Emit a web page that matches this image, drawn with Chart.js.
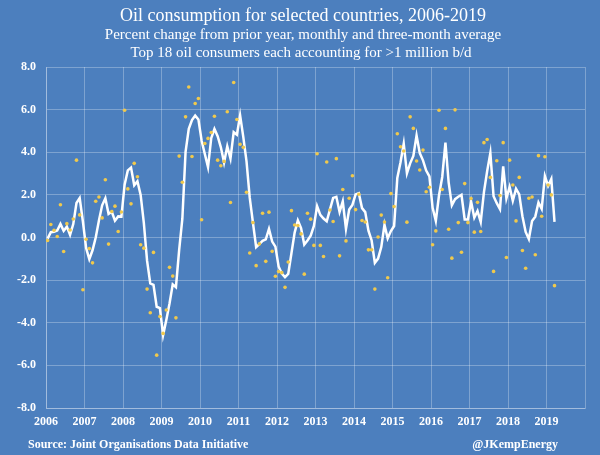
<!DOCTYPE html>
<html>
<head>
<meta charset="utf-8">
<script src="https://cdn.jsdelivr.net/npm/chart.js@4/dist/chart.umd.min.js"></script>
<style>
  html, body { margin: 0; padding: 0; background: #4c7fbe; }
  canvas { display: block; background: #4c7fbe; }
</style>
</head>
<body>
<canvas id="myChart" width="600" height="455"></canvas>
<script>
// monthly data, Jan 2006 - Mar 2019 (percent change from prior year)
const startYear = 2006;

const monthly = [
  -0.14, 0.61, 0.34, 0.05, 1.54, -0.66, 0.65, 0.35, 0.87, 3.63, 1.06, -2.45,
  -0.08, -0.52, -1.19, 1.70, 1.90, 0.92, 2.71, -0.31, 1.22, 1.47, 0.28, 1.20,
  5.97, 2.28, 1.58, 3.48, 2.85, -0.34, -0.50, -2.42, -3.53, -0.70, -5.52, -3.71,
  -4.50, -3.40, -1.40, -1.81, -3.77, 3.82, 2.59, 5.66, 7.06, 3.80, 6.29, 6.52,
  0.83, 4.41, 4.65, 4.93, 5.69, 3.63, 3.37, 3.57, 5.90, 1.64, 7.27, 5.54,
  4.37, 4.23, 2.12, -0.73, 0.70, -1.32, -0.30, 1.14, -1.12, 1.19, -0.65, -1.82,
  -1.60, -1.65, -2.34, -1.15, 1.26, 0.59, 0.56, 0.17, -1.72, 1.14, 0.86, -0.37,
  3.93, -0.37, -0.89, 3.54, 1.29, 0.75, 3.70, -0.86, 2.25, -0.16, 1.84, 2.90,
  1.31, 2.03, 0.80, 0.73, -0.58, -0.58, -2.42, 0.02, 1.05, 0.73, -1.89, 2.06,
  1.45, 4.87, 4.26, 4.06, 0.72, 5.66, 5.12, 3.59, 3.17, 4.10, 2.15, 2.36,
  -0.34, 0.31, 5.97, 2.25, 5.12, 0.39, -0.97, 5.99, 0.70, -0.69, 2.53, 0.70,
  1.83, 0.25, 1.65, 0.28, 4.45, 4.60, 2.82, -1.59, 3.60, 1.97, 4.45, -0.94,
  3.63, 2.46, 0.78, 2.82, -0.61, -1.44, 1.84, 1.90, -0.81, 3.84, 1.00, 3.79,
  2.46, 2.00, -2.26
];

const threeMonth = [
  -0.05, 0.25, 0.27, 0.33, 0.64, 0.31, 0.51, 0.12, 0.63, 1.62, 1.85, 0.75,
  -0.49, -1.02, -0.60, 0.00, 0.80, 1.51, 1.84, 1.11, 1.21, 0.79, 0.99, 0.98,
  2.48, 3.15, 3.28, 2.45, 2.64, 2.00, 0.67, -1.09, -2.15, -2.22, -3.25, -3.31,
  -4.58, -3.87, -3.10, -2.20, -2.33, -0.59, 0.88, 4.02, 5.10, 5.51, 5.72, 5.54,
  4.55, 3.92, 3.30, 4.66, 5.09, 4.75, 4.23, 3.52, 4.28, 3.70, 4.94, 4.82,
  5.73, 4.71, 3.57, 1.87, 0.70, -0.45, -0.31, -0.16, -0.09, 0.40, -0.19, -0.43,
  -1.36, -1.69, -1.86, -1.71, -0.74, 0.23, 0.80, 0.44, -0.33, -0.14, 0.09, 0.54,
  1.47, 1.06, 0.89, 0.76, 1.31, 1.86, 1.91, 1.20, 1.70, 0.41, 1.31, 1.53,
  2.02, 2.08, 1.38, 1.19, 0.32, -0.14, -1.19, -0.99, -0.45, 0.60, -0.04, 0.30,
  0.54, 2.79, 3.53, 4.40, 3.01, 3.48, 3.83, 4.79, 3.96, 3.62, 3.14, 2.87,
  1.39, 0.78, 1.98, 2.84, 4.45, 2.59, 1.51, 1.80, 1.91, 2.00, 0.85, 0.85,
  1.69, 0.93, 1.24, 0.73, 2.13, 3.11, 3.96, 1.94, 1.61, 1.33, 3.34, 1.83,
  2.38, 1.72, 2.29, 2.02, 1.00, 0.26, -0.07, 0.77, 0.98, 1.64, 1.34, 2.88,
  2.42, 2.75, 0.73
];

const yearTicks = [2006, 2007, 2008, 2009, 2010, 2011, 2012, 2013, 2014, 2015, 2016, 2017, 2018, 2019, 2020];

const titleLines = [
  "Oil consumption for selected countries, 2006-2019",
  "Percent change from prior year, monthly and three-month average",
  "Top 18 oil consumers each accounting for >1 million b/d"
];
const sourceText = "Source: Joint Organisations Data Initiative";
const creditText = "@JKempEnergy";

// each value sits in the middle of its month
const monthX = i => startYear + (i + 0.5) / 12;
const monthPts = monthly.map((v, i) => ({ x: monthX(i), y: v }));
const avgPts = threeMonth.map((v, i) => ({ x: monthX(i), y: v }));

const serif = '"Liberation Serif", "DejaVu Serif", serif';
const gridColor = "rgba(255,255,255,0.28)";

const textPlugin = {
  id: "texts",
  afterDraw(chart) {
    const c = chart.ctx;
    c.save();
    c.fillStyle = "#ffffff";
    c.textBaseline = "middle";
    c.textAlign = "center";
    c.font = "18px " + serif;
    c.fillText(titleLines[0], 303, 16);
    c.font = "15px " + serif;
    c.fillText(titleLines[1], 303, 35);
    c.fillText(titleLines[2], 301, 53);
    c.font = "bold 12px " + serif;
    c.textAlign = "left";
    c.fillText(sourceText, 28, 445);
    c.textAlign = "right";
    c.fillText(creditText, 558, 445);
    c.restore();
  }
};

const ctx = document.getElementById("myChart");
const myChart = new Chart(ctx, {
  type: "scatter",
  data: {
    datasets: [
      {
        label: "monthly",
        data: monthPts,
        backgroundColor: "#f0c94c",
        borderWidth: 0,
        pointRadius: 1.8,
        order: 0
      },
      {
        type: "line",
        label: "three-month average",
        data: avgPts,
        borderColor: "#ffffff",
        borderWidth: 2.5,
        pointRadius: 0,
        tension: 0,
        fill: false,
        order: 1
      }
    ]
  },
  options: {
    responsive: false,
    animation: false,
    layout: { padding: { top: 67, right: 15, bottom: 24, left: 0 } },
    plugins: {
      legend: { display: false },
      tooltip: { enabled: false },
      title: { display: false }
    },
    scales: {
      x: {
        type: "linear",
        min: 2006,
        max: 2020,
        afterBuildTicks: s => { s.ticks = yearTicks.map(v => ({ value: v })); },
        afterFit: s => { s.height = 23; },
        ticks: {
          color: "#ffffff",
          font: { family: serif, size: 12, weight: "bold" },
          padding: 7,
          maxRotation: 0,
          autoSkip: false,
          callback: v => (v === 2020 ? "" : String(v))
        },
        grid: { color: gridColor, lineWidth: 1, drawTicks: false },
        border: { color: gridColor }
      },
      y: {
        min: -8,
        max: 8,
        afterFit: s => { s.width = 46; },
        ticks: {
          stepSize: 2,
          color: "#ffffff",
          font: { family: serif, size: 12, weight: "bold" },
          padding: 10,
          callback: v => v.toFixed(1)
        },
        grid: { color: gridColor, lineWidth: 1, drawTicks: false },
        border: { color: gridColor }
      }
    }
  },
  plugins: [textPlugin]
});
</script>
</body>
</html>
